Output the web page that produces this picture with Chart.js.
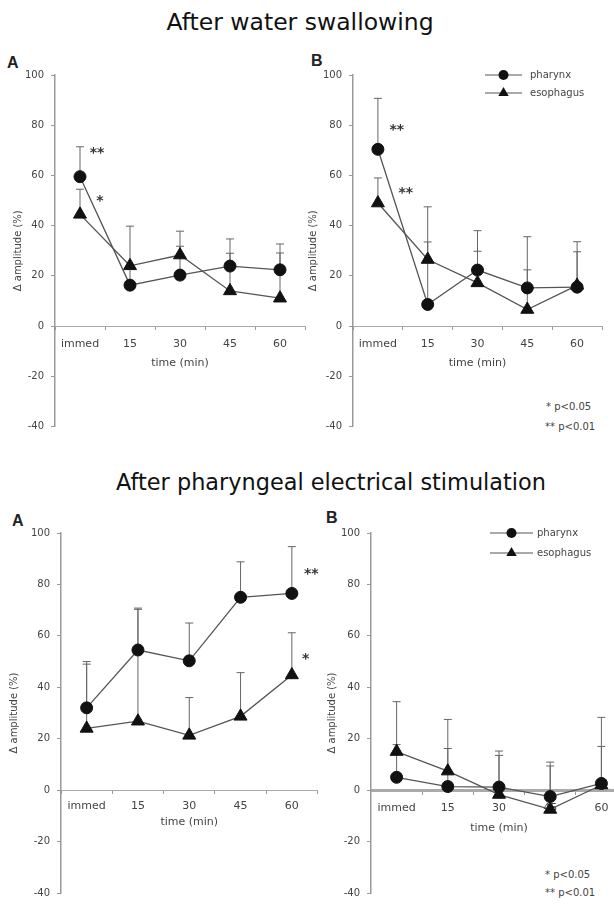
<!DOCTYPE html>
<html>
<head>
<meta charset="utf-8">
<script src="https://cdn.jsdelivr.net/npm/chart.js@4/dist/chart.umd.min.js"></script>
<style>
html,body{margin:0;padding:0;background:#fff;}
body{width:614px;height:906px;overflow:hidden;position:relative;font-family:"DejaVu Sans",sans-serif;}
canvas{position:absolute;}
.title{position:absolute;font-family:"DejaVu Sans",sans-serif;line-height:26px;color:#111;white-space:nowrap;transform:translateX(-50%);}
.letter{position:absolute;font:bold 16px/16px "Liberation Sans",Arial,sans-serif;color:#222;}
.fn{position:absolute;font:10px/12px "DejaVu Sans",sans-serif;color:#444;white-space:nowrap;}
</style>
</head>
<body>
<div class="title" style="left:300px;top:9px;font-size:23.5px;">After water swallowing</div>
<div class="title" style="left:331px;top:469px;font-size:22.4px;">After pharyngeal electrical stimulation</div>
<div class="letter" style="left:7px;top:55px;">A</div>
<div class="letter" style="left:311px;top:53px;">B</div>
<div class="letter" style="left:12px;top:513px;">A</div>
<div class="letter" style="left:326px;top:510px;">B</div>
<div class="fn" style="left:546px;top:401px;">* p&lt;0.05</div>
<div class="fn" style="left:545px;top:421px;">** p&lt;0.01</div>
<div class="fn" style="left:545px;top:869px;">* p&lt;0.05</div>
<div class="fn" style="left:545px;top:887px;">** p&lt;0.01</div>
<script>
// ---------- data ----------
const categories = ['immed', '15', '30', '45', '60'];
const seriesNames = ['pharynx', 'esophagus'];
const yMin = -40, yMax = 100, yStep = 20;

// After water swallowing - panel A
const waterA_pharynx     = [59.5, 16.3, 20.3, 23.9, 22.4];
const waterA_pharynxSD   = [11.9,  7.0, 11.5, 10.8, 10.3];
const waterA_esophagus   = [44.5, 24.0, 28.3, 14.0, 11.1];
const waterA_esophagusSD = [10.0, 15.8,  9.5, 15.0, 18.0];
// After water swallowing - panel B
const waterB_pharynx     = [70.4,  8.6, 22.3, 15.2, 15.5];
const waterB_pharynxSD   = [20.3, 38.9, 15.7, 20.4, 18.1];
const waterB_esophagus   = [49.0, 26.5, 17.2,  6.6, 16.2];
const waterB_esophagusSD = [10.0,  7.0, 12.6, 15.8, 13.4];
// After pharyngeal electrical stimulation - panel A
const stimA_pharynx      = [32.0, 54.5, 50.3, 75.0, 76.5];
const stimA_pharynxSD    = [18.0, 16.3, 14.7, 13.8, 18.2];
const stimA_esophagus    = [24.0, 26.8, 21.3, 28.7, 44.8];
const stimA_esophagusSD  = [25.0, 43.5, 14.7, 17.0, 16.4];
// After pharyngeal electrical stimulation - panel B
const stimB_pharynx      = [ 5.0,  1.4,  1.2, -2.5,  2.6];
const stimB_pharynxSD    = [12.7, 14.8, 14.0, 13.4, 25.7];
const stimB_esophagus    = [15.0,  7.4, -1.7, -7.5,  2.0];
const stimB_esophagusSD  = [19.4, 20.1, 15.2, 16.9, 15.0];

// significance labels
const waterA_sig = ['**', '*'];
const waterB_sig = ['**', '**'];
const stimA_sig  = ['**', '*'];

// ---------- plugins ----------
const errorBarsPlugin = {
  id: 'errorBars',
  beforeDatasetsDraw(chart, args, opts) {
    const ctx = chart.ctx, ys = chart.scales.y;
    chart.data.datasets.forEach((ds, i) => {
      if (!ds.sd) return;
      const meta = chart.getDatasetMeta(i);
      ctx.save();
      ctx.strokeStyle = opts.color || '#666';
      ctx.lineWidth = opts.width || 1;
      meta.data.forEach((pt, j) => {
        const top = ys.getPixelForValue(ds.data[j] + ds.sd[j]);
        ctx.beginPath();
        ctx.moveTo(pt.x, pt.y); ctx.lineTo(pt.x, top);
        ctx.moveTo(pt.x - opts.cap, top); ctx.lineTo(pt.x + opts.cap, top);
        ctx.stroke();
      });
      ctx.restore();
    });
  }
};

const sigPlugin = {
  id: 'sigMarks',
  afterDatasetsDraw(chart, args, opts) {
    if (!opts.items) return;
    const ctx = chart.ctx;
    ctx.save();
    ctx.fillStyle = '#333';
    ctx.font = 'bold 14px "DejaVu Sans"';
    ctx.textAlign = 'center';
    ctx.textBaseline = 'middle';
    opts.items.forEach(m => {
      const x = chart.scales.x.getPixelForValue(m.i);
      const y = chart.scales.y.getPixelForValue(m.v);
      ctx.fillText(m.t, x, y + 3);
    });
    ctx.restore();
  }
};

function drawMarker(ctx, style, x, y, r) {
  ctx.beginPath();
  if (style === 'circle') {
    ctx.arc(x, y, r, 0, Math.PI * 2);
  } else {
    for (let k = 0; k < 3; k++) {
      const a = k * 2 * Math.PI / 3;
      const px = x + Math.sin(a) * r, py = y - Math.cos(a) * r;
      if (k === 0) ctx.moveTo(px, py); else ctx.lineTo(px, py);
    }
    ctx.closePath();
  }
  ctx.fill();
}

const legendPlugin = {
  id: 'lineLegend',
  afterDraw(chart, args, opts) {
    if (!opts || !opts.show) return;
    const ctx = chart.ctx;
    ctx.save();
    chart.data.datasets.forEach((ds, i) => {
      const y = opts.y + i * opts.dy;
      ctx.strokeStyle = '#555'; ctx.lineWidth = 1.2;
      ctx.beginPath(); ctx.moveTo(opts.x, y); ctx.lineTo(opts.x + opts.len, y); ctx.stroke();
      ctx.fillStyle = '#111';
      drawMarker(ctx, ds.pointStyle, opts.x + opts.len / 2, y, ds.pointStyle === 'circle' ? 5 : 6);
      ctx.fillStyle = '#444';
      ctx.font = '10px "DejaVu Sans"';
      ctx.textAlign = 'left'; ctx.textBaseline = 'middle';
      ctx.fillText(ds.label, opts.x + opts.len + opts.gap, y);
    });
    ctx.restore();
  }
};

// ---------- panels (layout in page pixels) ----------
const panels = [
  { left: 0, top: 60, width: 320, height: 380, area: {l: 55, r: 305, t: 75, b: 426.5},
    yTitleX: 18, xTitleY: 363, xLabelGap: 8, zeroWidth: 1,
    ph: waterA_pharynx, phSD: waterA_pharynxSD, es: waterA_esophagus, esSD: waterA_esophagusSD,
    marks: [{i: 0.34, v: 70, t: waterA_sig[0]}, {i: 0.40, v: 51, t: waterA_sig[1]}],
    legend: null },
  { left: 300, top: 60, width: 314, height: 380, area: {l: 353, r: 602, t: 75, b: 426.5},
    yTitleX: 313, xTitleY: 363, xLabelGap: 8, zeroWidth: 1,
    ph: waterB_pharynx, phSD: waterB_pharynxSD, es: waterB_esophagus, esSD: waterB_esophagusSD,
    marks: [{i: 0.38, v: 79, t: waterB_sig[0]}, {i: 0.56, v: 54, t: waterB_sig[1]}],
    legend: {x: 485, y: 75, dy: 18, len: 37, gap: 8} },
  { left: 0, top: 515, width: 330, height: 391, area: {l: 61, r: 317.5, t: 533, b: 893},
    yTitleX: 14, xTitleY: 822, xLabelGap: 6, zeroWidth: 1,
    ph: stimA_pharynx, phSD: stimA_pharynxSD, es: stimA_esophagus, esSD: stimA_esophagusSD,
    marks: [{i: 4.38, v: 85, t: stimA_sig[0]}, {i: 4.27, v: 52, t: stimA_sig[1]}],
    legend: null },
  { left: 310, top: 515, width: 330, height: 391, area: {l: 371, r: 627, t: 533, b: 893},
    yTitleX: 332, xTitleY: 828, xLabelGap: 8, zeroWidth: 3,
    ph: stimB_pharynx, phSD: stimB_pharynxSD, es: stimB_esophagus, esSD: stimB_esophagusSD,
    marks: [],
    legend: {x: 490, y: 533, dy: 20, len: 43, gap: 4} }
];

function buildPanel(p) {
  const cv = document.createElement('canvas');
  cv.width = p.width; cv.height = p.height;
  cv.style.left = p.left + 'px'; cv.style.top = p.top + 'px';
  cv.style.width = p.width + 'px'; cv.style.height = p.height + 'px';
  document.body.appendChild(cv);
  const yTitleLH = 12;
  const padLeft = p.yTitleX - p.left - yTitleLH / 2;
  const yWidth = p.area.l - p.left - padLeft;
  const zeroY = p.area.t + (p.area.b - p.area.t) * (yMax / (yMax - yMin));
  const xTitleH = p.xTitleY - zeroY + 6.6;
  const lg = p.legend ? {show: true, x: p.legend.x - p.left, y: p.legend.y - p.top, dy: p.legend.dy, len: p.legend.len, gap: p.legend.gap} : {show: false};
  const common = { borderColor: '#555', borderWidth: 1.3, tension: 0, fill: false,
    pointBackgroundColor: '#111', pointBorderColor: '#111', pointBorderWidth: 1 };
  new Chart(cv, {
    type: 'line',
    data: {
      labels: categories,
      datasets: [
        Object.assign({label: seriesNames[0], data: p.ph, sd: p.phSD, pointStyle: 'circle', pointRadius: 6}, common),
        Object.assign({label: seriesNames[1], data: p.es, sd: p.esSD, pointStyle: 'triangle', pointRadius: 7.5}, common)
      ]
    },
    options: {
      responsive: false, animation: false, devicePixelRatio: 1,
      layout: { padding: { left: padLeft, top: p.area.t - p.top, right: p.left + p.width - p.area.r, bottom: p.top + p.height - p.area.b } },
      plugins: {
        legend: {display: false}, tooltip: {enabled: false}, title: {display: false},
        errorBars: {color: '#666', width: 1, cap: 4},
        sigMarks: {items: p.marks},
        lineLegend: lg
      },
      scales: {
        x: {
          type: 'category', offset: true, position: {y: 0},
          grid: {offset: true, drawOnChartArea: false, drawTicks: true, tickLength: 3, color: '#999'},
          border: {display: true, color: '#aaa', width: p.zeroWidth},
          ticks: {color: '#444', font: {family: 'DejaVu Sans', size: 11}, padding: p.xLabelGap, autoSkip: false, maxRotation: 0},
          title: {display: true, text: 'time (min)', color: '#444', font: {family: 'DejaVu Sans', size: 11}, padding: 0},
          afterFit: s => { s.height = xTitleH; }
        },
        y: {
          type: 'linear', position: 'left', min: yMin, max: yMax,
          grid: {drawOnChartArea: false, drawTicks: true, tickLength: 4, color: '#999'},
          border: {display: true, color: '#999', width: 1.5},
          ticks: {stepSize: yStep, color: '#444', font: {family: 'DejaVu Sans', size: 10}, padding: 7},
          title: {display: true, text: 'Δ amplitude (%)', color: '#444', font: {family: 'DejaVu Sans', size: 10, lineHeight: 1.2}, padding: 0},
          afterFit: s => { s.width = yWidth; }
        }
      }
    },
    plugins: [errorBarsPlugin, sigPlugin, legendPlugin]
  });
}

panels.forEach(buildPanel);
</script>
</body>
</html>
